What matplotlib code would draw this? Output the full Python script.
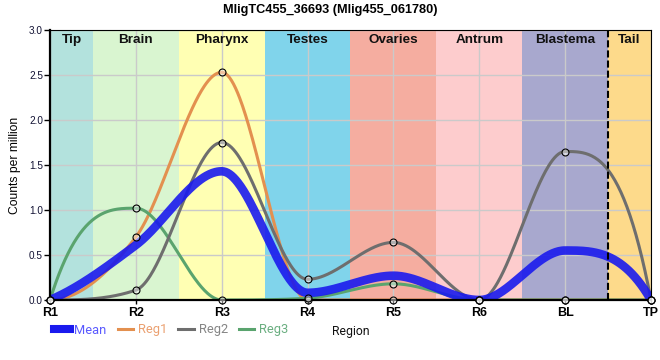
import numpy as np
import matplotlib
matplotlib.use("Agg")
import matplotlib.pyplot as plt
from matplotlib.lines import Line2D

# ---- data ----
regions = ['R1', 'R2', 'R3', 'R4', 'R5', 'R6', 'BL', 'TP']
band_names = ['Tip', 'Brain', 'Pharynx', 'Testes', 'Ovaries', 'Antrum', 'Blastema', 'Tail']
band_colors = ['#b3e2dd', '#d9f5d0', '#ffffb3', '#80d4eb', '#f5ada0', '#fdcccd', '#a8a8ce', '#fdda8b']
mean_vals = [0.0, 0.61, 1.43, 0.08, 0.27, 0.0, 0.55, 0.0]
reg1_vals = [0.0, 0.70, 2.53, 0.0, 0.0, 0.0, 0.0, 0.0]
reg2_vals = [0.0, 0.11, 1.75, 0.23, 0.64, 0.0, 1.65, 0.0]
reg3_vals = [0.0, 1.02, 0.0, 0.02, 0.18, 0.0, 0.0, 0.0]
series_names = ['Mean', 'Reg1', 'Reg2', 'Reg3']
title = 'MligTC455_36693 (Mlig455_061780)'


def smooth(y, num=600):
    """Monotone-style cubic Hermite curve through the points."""
    y = np.asarray(y, float)
    n = len(y)
    dl = np.diff(y)
    d = np.zeros(n)
    for k in range(1, n - 1):
        if dl[k - 1] * dl[k] > 0:
            d[k] = (dl[k - 1] + dl[k]) / 2
    d[0], d[-1] = dl[0], dl[-1]
    for k in range(n - 1):
        if dl[k] == 0:
            d[k] = 0
            d[k + 1] = 0
            continue
        a, b = d[k] / dl[k], d[k + 1] / dl[k]
        s = a * a + b * b
        if s > 9:
            t = 3 / np.sqrt(s)
            d[k] = t * a * dl[k]
            d[k + 1] = t * b * dl[k]

    def endd(delta, adj):
        v = 3 * delta - 2 * adj
        if delta == 0 or np.sign(v) != np.sign(delta):
            return 0.0
        if abs(v) > 3 * abs(delta):
            return 3 * delta
        return v
    d[0] = endd(dl[0], d[1])
    d[-1] = endd(dl[-1], d[-2])
    xs = np.linspace(0, n - 1, num)
    ys = np.empty_like(xs)
    for i, xv in enumerate(xs):
        k = min(int(np.floor(xv)), n - 2)
        t = xv - k
        h00 = 2 * t**3 - 3 * t**2 + 1
        h10 = t**3 - 2 * t**2 + t
        h01 = -2 * t**3 + 3 * t**2
        h11 = t**3 - t**2
        ys[i] = h00 * y[k] + h10 * d[k] + h01 * y[k + 1] + h11 * d[k + 1]
    return xs, ys


W, H = 660, 360
fig = plt.figure(figsize=(W / 100, H / 100), dpi=100)
ax = fig.add_axes([50 / W, 1 - 300 / H, (651 - 50) / W, (300 - 30) / H])

xpos = np.arange(len(regions))
xmin, xmax = xpos[0], xpos[-1]
ax.set_xlim(xmin, xmax)
ax.set_ylim(0, 3.0)

# region bands
for i, (name, col) in enumerate(zip(band_names, band_colors)):
    lo = max(xpos[i] - 0.5, xmin)
    hi = min(xpos[i] + 0.5, xmax)
    ax.axvspan(lo, hi, color=col, zorder=0, lw=0)
    ax.text((lo + hi) / 2, 2.885, name, ha='center', va='center', fontsize=9.7,
            fontweight='bold', family='Liberation Sans', color='#111111', zorder=6)

# dashed line between Blastema and Tail
ax.axvline(xpos[-2] + 0.5, color='black', lw=1.5, dashes=(3.4, 1.45), zorder=7, clip_on=False)

ax.set_xticks(xpos)
ax.set_xticklabels(regions, fontweight='bold', family='Liberation Sans', fontsize=9)
ax.set_yticks(np.arange(0, 3.01, 0.5))
ax.set_yticklabels([f'{v:.1f}' for v in np.arange(0, 3.01, 0.5)], family='Liberation Sans',
                   fontsize=7.2, color='#111133')
ax.grid(True, color='#cacaca', lw=1.0, zorder=0.5)
for gl in ax.get_xgridlines() + ax.get_ygridlines():
    gl.set_zorder(0.5)
ax.tick_params(axis='y', length=4, width=1, pad=1, color='black')
ax.tick_params(axis='x', length=3, width=1, pad=2.3, color='black')

ax.set_ylabel('Counts per million', family='Liberation Sans', fontsize=8.7, labelpad=6)

colors = {'Mean': '#1a1aee', 'Reg1': '#e3904f', 'Reg2': '#6e6e6e', 'Reg3': '#5aa46e'}
text_colors = {'Mean': '#5a5aff', 'Reg1': '#eba070', 'Reg2': '#858585', 'Reg3': '#6aae80'}

for name, vals, z in [('Reg1', reg1_vals, 3), ('Reg3', reg3_vals, 3.1), ('Reg2', reg2_vals, 3.2)]:
    xs, ys = smooth(vals)
    ax.plot(xs, ys, color=colors[name], lw=2.2, zorder=z, solid_capstyle='round')

xs, ys = smooth(mean_vals)
ax.plot(xs, ys, color=colors['Mean'], lw=6.2, alpha=0.9, zorder=4, solid_capstyle='round')

for vals in (reg1_vals, reg2_vals, reg3_vals):
    ax.plot(xpos, vals, ls='none', marker='o', ms=5, mec='black', mew=0.8,
            mfc=(1, 1, 1, 0.45), zorder=8, clip_on=False)

for side in ['left', 'bottom']:
    ax.spines[side].set_linewidth(1.6)
for side in ['top', 'right']:
    ax.spines[side].set_linewidth(0.8)
for s in ax.spines.values():
    s.set_zorder(7.5)

fig.text(0.5, 1 - 9.5 / H, title, ha='center', va='center', fontsize=9.2,
         fontweight='bold', family='Liberation Sans')

handles = [Line2D([], [], color=colors['Mean'], lw=5.8),
           Line2D([], [], color=colors['Reg1'], lw=2.2),
           Line2D([], [], color=colors['Reg2'], lw=2.2),
           Line2D([], [], color=colors['Reg3'], lw=2.2)]
leg = fig.legend(handles, series_names, loc='center left', bbox_to_anchor=(54 / W, 1 - 330 / H),
                 ncol=4, frameon=False, handlelength=1.2, handletextpad=0.38,
                 columnspacing=0.85, borderpad=0, borderaxespad=0,
                 prop={'family': 'Roboto', 'size': 9.3})
for t, n in zip(leg.get_texts(), series_names):
    t.set_color(text_colors[n])

fig.text(332 / W, 1 - 332 / H, 'Region', ha='left', va='center', fontsize=8.8,
         family='Roboto', color='#111111')

fig.savefig('out.png', dpi=100)
